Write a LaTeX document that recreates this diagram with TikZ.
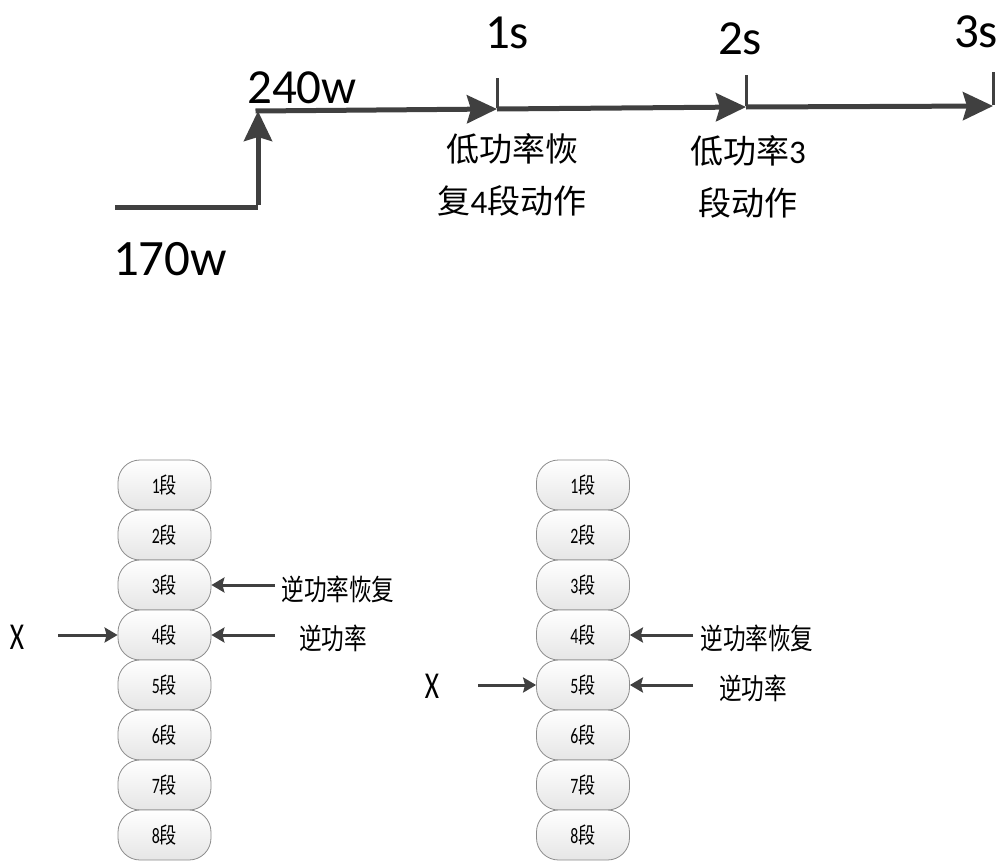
\documentclass[tikz,border=0pt]{standalone}
\usepackage{fontspec}
\setmainfont{Carlito}
\newfontfamily\cjk{Noto Sans CJK SC}
\newfontfamily\cjkc[FakeStretch=0.78]{Noto Sans CJK SC}
\newfontfamily\latc[FakeStretch=0.72]{Carlito}
\usetikzlibrary{arrows.meta}
\definecolor{ln}{HTML}{404040}
\definecolor{bd}{HTML}{8C8C8C}
\tikzset{
  tl/.style={line width=5pt, draw=ln},
  bigtip/.style={-{Stealth[length=30pt,width=28pt,inset=4pt]}},
  sa/.style={line width=3pt, draw=ln, -{Stealth[length=13pt,width=15pt,inset=2pt]}},
  seg/.style={draw=bd, line width=0.8pt, rounded corners=22pt, minimum width=93pt, minimum height=50pt,
    inner sep=0pt, top color=white, bottom color=black!10, font=\fontsize{22}{22}\selectfont},
  bigtxt/.style={font=\fontsize{49}{49}\selectfont, inner sep=0pt, text=black},
  cjktxt/.style={font=\fontsize{33}{52}\cjk\selectfont, align=center, inner sep=0pt},
  sidetxt/.style={font=\fontsize{29}{29}\cjkc\selectfont, inner sep=0pt},
  xtxt/.style={font=\fontsize{38}{38}\latc\selectfont, inner sep=0pt}
}
\newcommand{\segtxt}[1]{{\latc #1}{\cjkc 段}}
\begin{document}
\begin{tikzpicture}[x=1pt,y=-1pt]
\useasboundingbox (0,0) rectangle (1006,862);
% timeline
\coordinate (a0) at (115,207);
\coordinate (a1) at (258,207);
\coordinate (a2) at (258,111);
\coordinate (a3) at (497,109);
\coordinate (a4) at (746,107);
\coordinate (a5) at (993,106);
\coordinate (k1) at (497,78);
\coordinate (k2) at (746,75);
\coordinate (k3) at (993,72);
\draw[tl] (a0) -- (a1);
\draw[tl,bigtip] ([yshift=2.5pt]a1) -- (a2);
\draw[tl,bigtip] ([xshift=-2.5pt]a2) -- (a3);
\draw[tl,bigtip] (a3) -- (a4);
\draw[tl,bigtip] (a4) -- (a5);
\draw[line width=3pt, draw=ln] (k1) -- ([yshift=1pt]a3);
\draw[line width=3pt, draw=ln] (k2) -- ([yshift=1pt]a4);
\draw[line width=3pt, draw=ln] (k3) -- ([yshift=1pt]a5);
\node[bigtxt] (s1) at (507,33) {1s};
\node[bigtxt] (s2) at (740,39) {2s};
\node[bigtxt] (s3) at (976,32) {3s};
\node[bigtxt] (p240) at (302,88) {240w};
\node[bigtxt,font=\fontsize{51}{51}\selectfont] (p170) at (170,259) {170w};
\node[cjktxt] (lab1) at (512,175) {低功率恢\\复{\fontsize{33}{52}\selectfont\rmfamily 4}段动作};
\node[cjktxt] (lab2) at (748,177) {低功率{\fontsize{33}{52}\selectfont\rmfamily 3}\\段动作};
% columns
\foreach \i in {1,...,8} {
  \node[seg] (l\i) at (164.5,{485+50*(\i-1)}) {\segtxt{\i}};
}
\foreach \i in {1,...,8} {
  \node[seg] (r\i) at (583,{485+50*(\i-1)}) {\segtxt{\i}};
}
% left annotations
\coordinate (ls1) at (275,585);
\coordinate (ls2) at (275,635);
\coordinate (lx) at (58,635);
\draw[sa] (ls1) -- (l3.east);
\draw[sa] (ls2) -- (l4.east);
\draw[sa] (lx) -- (l4.west);
\node[sidetxt] (lt1) at (338,589) {逆功率恢复};
\node[sidetxt] (lt2) at (333,638) {逆功率};
\node[xtxt] (lxl) at (17,637) {X};
% right annotations
\coordinate (rs1) at (693,635);
\coordinate (rs2) at (693,685);
\coordinate (rx) at (478,685);
\draw[sa] (rs1) -- (r4.east);
\draw[sa] (rs2) -- (r5.east);
\draw[sa] (rx) -- (r5.west);
\node[sidetxt] (rt1) at (757,638) {逆功率恢复};
\node[sidetxt] (rt2) at (753,688) {逆功率};
\node[xtxt] (rxl) at (432,686) {X};
\end{tikzpicture}
\end{document}
